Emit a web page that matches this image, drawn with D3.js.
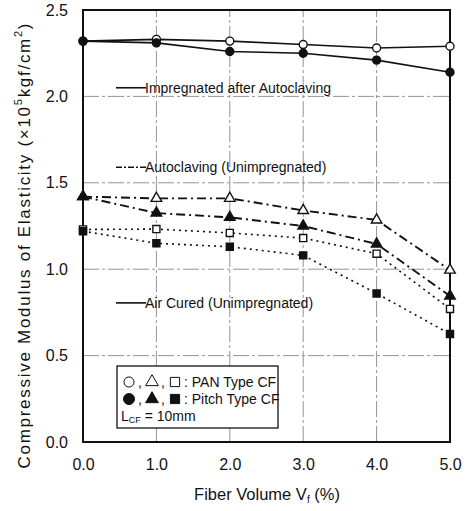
<!DOCTYPE html>
<html><head><meta charset="utf-8">
<script src="https://cdn.jsdelivr.net/npm/d3@7"></script>
<style>body{margin:0;background:#fff}svg{display:block}text{font-family:"Liberation Sans",Arial,sans-serif;fill:#111}</style>
</head><body>
<script>
const fiberVolume = [0, 1, 2, 3, 4, 5];
const impregPAN   = [2.32, 2.33, 2.32, 2.30, 2.28, 2.29];
const impregPitch = [2.32, 2.31, 2.26, 2.25, 2.21, 2.14];
const autoPAN     = [1.42, 1.41, 1.41, 1.34, 1.285, 0.995];
const autoPitch   = [1.42, 1.325, 1.30, 1.25, 1.146, 0.845];
const airPAN      = [1.23, 1.232, 1.21, 1.18, 1.09, 0.77];
const airPitch    = [1.22, 1.15, 1.13, 1.08, 0.86, 0.625];
const xTicks = [0, 1, 2, 3, 4, 5];
const yTicks = [0, 0.5, 1.0, 1.5, 2.0, 2.5];

const W = 469, H = 511;
const m = {l: 83, r: 19, t: 10, b: 69};
const svg = d3.select("body").append("svg").attr("width", W).attr("height", H);
const x = d3.scaleLinear().domain([0, 5]).range([m.l, W - m.r]);
const y = d3.scaleLinear().domain([0, 2.5]).range([H - m.b, m.t]);

// gridlines
const g = svg.append("g");
g.selectAll(".hg").data([0.5, 1.0, 1.5, 2.0]).join("line")
  .attr("x1", x(0)).attr("x2", x(5)).attr("y1", d => y(d)).attr("y2", d => y(d))
  .attr("stroke", "#888").attr("stroke-width", 0.9).attr("stroke-dasharray", "16,3,3,3");
g.selectAll(".vg").data([1, 2, 3, 4]).join("line")
  .attr("y1", y(0)).attr("y2", y(2.5)).attr("x1", d => x(d)).attr("x2", d => x(d))
  .attr("stroke", "#888").attr("stroke-width", 0.9).attr("stroke-dasharray", "16,3,3,3");

// axes (tick labels only)
const xAxis = d3.axisBottom(x).tickValues(xTicks).tickSize(0).tickPadding(14).tickFormat(d3.format(".1f"));
const yAxis = d3.axisLeft(y).tickValues(yTicks).tickSize(0).tickPadding(15).tickFormat(d3.format(".1f"));
const gx = svg.append("g").attr("transform", `translate(0,${y(0)})`).call(xAxis);
const gy = svg.append("g").attr("transform", `translate(${x(0)},0)`).call(yAxis);
[gx, gy].forEach(a => { a.select(".domain").remove(); a.selectAll("text").attr("font-size", 16).style("font-family", '"Liberation Sans",Arial,sans-serif').attr("fill", "#111"); });
gx.selectAll("text").attr("dy", "0.9em");

// frame
svg.append("rect").attr("x", x(0)).attr("y", y(2.5)).attr("width", x(5) - x(0)).attr("height", y(0) - y(2.5))
  .attr("fill", "none").attr("stroke", "#111").attr("stroke-width", 2);

const series = [
  {v: impregPAN, dash: null, w: 1.6, mk: "circle", fill: false},
  {v: impregPitch, dash: null, w: 1.6, mk: "circle", fill: true},
  {v: autoPAN, dash: "9,4,2,4", w: 1.9, mk: "triangle", fill: false},
  {v: autoPitch, dash: "9,4,2,4", w: 1.9, mk: "triangle", fill: true},
  {v: airPAN, dash: "2,4", w: 1.6, mk: "square", fill: false},
  {v: airPitch, dash: "2,4", w: 1.6, mk: "square", fill: true}
];
const line = d3.line().x((d, i) => x(fiberVolume[i])).y(d => y(d));
const sym = {circle: d3.symbol().type(d3.symbolCircle).size(50),
             triangle: d3.symbol().type(d3.symbolTriangle).size(48),
             square: d3.symbol().type(d3.symbolSquare).size(50)};
series.forEach(s => {
  svg.append("path").datum(s.v).attr("d", line).attr("fill", "none").attr("stroke", "#111")
    .attr("stroke-width", s.w).attr("stroke-dasharray", s.dash);
});
series.forEach(s => {
  svg.append("g").selectAll("path").data(s.v).join("path")
    .attr("transform", (d, i) => `translate(${x(fiberVolume[i])},${y(d)})`)
    .attr("d", sym[s.mk]).attr("fill", s.fill ? "#111" : "#fff").attr("stroke", "#111").attr("stroke-width", 1.4);
});

// in-plot labels
const labs = [
  {t: "Impregnated after Autoclaving", v: 2.05, dash: null},
  {t: "Autoclaving (Unimpregnated)", v: 1.59, dash: "6,2,2,2"},
  {t: "Air Cured (Unimpregnated)", v: 0.805, dash: null}
];
labs.forEach(l => {
  svg.append("line").attr("x1", 116).attr("x2", 146).attr("y1", y(l.v)).attr("y2", y(l.v))
    .attr("stroke", "#111").attr("stroke-width", 1.6).attr("stroke-dasharray", l.dash);
  svg.append("text").attr("x", 145).attr("y", y(l.v) + 5).attr("font-size", 14).text(l.t);
});

// legend box
const lg = svg.append("g");
lg.append("rect").attr("x", 117).attr("y", 366).attr("width", 161).attr("height", 62)
  .attr("fill", "#fff").attr("stroke", "#111").attr("stroke-width", 1.3);
const legRows = [
  {y: 387, fill: false, text: ": PAN Type CF"},
  {y: 404, fill: true, text: ": Pitch Type CF"}
];
legRows.forEach(r => {
  const cy = r.y - 5;
  lg.append("path").attr("transform", `translate(129,${cy})`).attr("d", d3.symbol().type(d3.symbolCircle).size(r.fill ? 95 : 80))
    .attr("fill", r.fill ? "#111" : "#fff").attr("stroke", "#111").attr("stroke-width", 1);
  lg.append("text").attr("x", 138).attr("y", r.y).attr("font-size", 14).text(",");
  lg.append("path").attr("transform", `translate(152,${cy})`).attr("d", d3.symbol().type(d3.symbolTriangle).size(70))
    .attr("fill", r.fill ? "#111" : "#fff").attr("stroke", "#111").attr("stroke-width", 1);
  lg.append("text").attr("x", 161).attr("y", r.y).attr("font-size", 14).text(",");
  lg.append("path").attr("transform", `translate(175,${cy})`).attr("d", d3.symbol().type(d3.symbolSquare).size(85))
    .attr("fill", r.fill ? "#111" : "#fff").attr("stroke", "#111").attr("stroke-width", 1);
  lg.append("text").attr("x", 184).attr("y", r.y).attr("font-size", 14).text(r.text);
});
const lt = lg.append("text").attr("x", 121).attr("y", 421).attr("font-size", 14);
lt.append("tspan").text("L");
lt.append("tspan").attr("font-size", 9).attr("dy", 2).text("CF");
lt.append("tspan").attr("dy", -2).text(" = 10mm");

// axis titles
const xt = svg.append("text").attr("x", 267).attr("y", 500).attr("text-anchor", "middle").attr("font-size", 16.5);
xt.append("tspan").text("Fiber Volume V");
xt.append("tspan").attr("font-size", 10).attr("dy", 3).text("f");
xt.append("tspan").attr("dy", -3).text(" (%)");

const yt = svg.append("text").attr("transform", "translate(30,246) rotate(-90)").attr("text-anchor", "middle")
  .attr("font-size", 17).attr("textLength", 445).attr("lengthAdjust", "spacing");
yt.append("tspan").text("Compressive Modulus of Elasticity (×10");
yt.append("tspan").attr("font-size", 11).attr("dy", -8).text("5");
yt.append("tspan").attr("dy", 8).text("kgf/cm");
yt.append("tspan").attr("font-size", 11).attr("dy", -8).text("2");
yt.append("tspan").attr("dy", 8).text(")");
</script>
</body></html>
